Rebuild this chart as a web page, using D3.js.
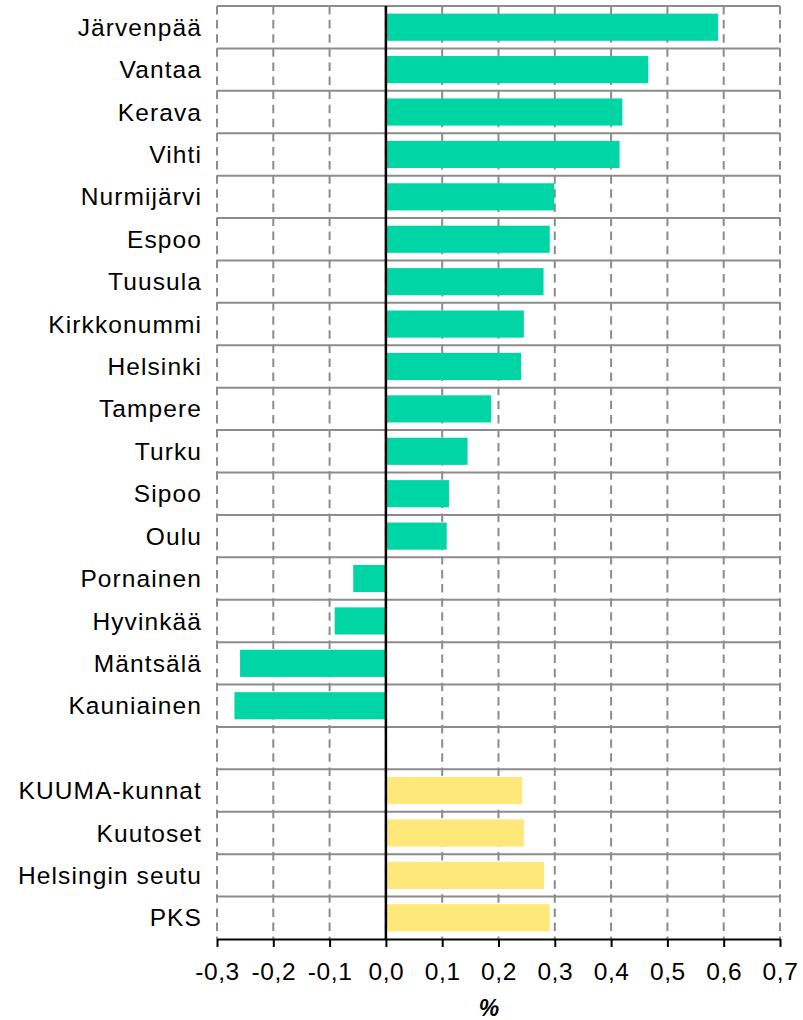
<!DOCTYPE html>
<html>
<head>
<meta charset="utf-8">
<script src="https://cdn.jsdelivr.net/npm/d3@7"></script>
<style>
  body { margin: 0; background: #fff; }
  text { font-family: "Liberation Sans", Arial, sans-serif; fill: #000; }
</style>
</head>
<body>
<script>
var width = 803;
var height = 1020;

// categories top to bottom, blank row separates the area totals
var categories = ['Järvenpää', 'Vantaa', 'Kerava', 'Vihti', 'Nurmijärvi', 'Espoo', 'Tuusula',
  'Kirkkonummi', 'Helsinki', 'Tampere', 'Turku', 'Sipoo', 'Oulu', 'Pornainen', 'Hyvinkää',
  'Mäntsälä', 'Kauniainen', ' ', 'KUUMA-kunnat', 'Kuutoset', 'Helsingin seutu', 'PKS'];
var values = [0.590, 0.466, 0.420, 0.415, 0.299, 0.291, 0.280, 0.245, 0.240, 0.187, 0.145,
  0.112, 0.108, -0.058, -0.091, -0.259, -0.269, null, 0.242, 0.245, 0.281, 0.291];
var groups = ['kunta', 'kunta', 'kunta', 'kunta', 'kunta', 'kunta', 'kunta', 'kunta', 'kunta',
  'kunta', 'kunta', 'kunta', 'kunta', 'kunta', 'kunta', 'kunta', 'kunta', '', 'alue', 'alue', 'alue', 'alue'];
var xTicks = [-0.3, -0.2, -0.1, 0.0, 0.1, 0.2, 0.3, 0.4, 0.5, 0.6, 0.7];

var colors = { kunta: '#00d5a6', alue: '#ffe87a' };

var plotLeft = 217, plotRight = 780, plotTop = 6, plotBottom = 939;

var svg = d3.select('body').append('svg')
  .attr('width', width)
  .attr('height', height);

var x = d3.scaleLinear().domain([-0.3, 0.7]).range([plotLeft, plotRight]);
var y = d3.scaleBand().domain(categories).range([plotTop, plotBottom]).paddingInner(0.36).paddingOuter(0.18);
var rowStep = (plotBottom - plotTop) / categories.length;

var data = categories.map(function(c, i) {
  return { name: c, value: values[i], group: groups[i] };
});

// vertical dashed grid
svg.append('g').selectAll('line').data(xTicks).enter().append('line')
  .attr('x1', function(d) { return x(d); })
  .attr('x2', function(d) { return x(d); })
  .attr('y1', plotTop)
  .attr('y2', plotBottom)
  .attr('stroke', '#8c8c8c')
  .attr('stroke-width', 2)
  .attr('stroke-dasharray', '8.5,5.6');

// horizontal solid grid (row boundaries)
var rows = d3.range(categories.length);
svg.append('g').selectAll('line').data(rows).enter().append('line')
  .attr('x1', plotLeft)
  .attr('x2', plotRight)
  .attr('y1', function(d) { return plotTop + d * rowStep; })
  .attr('y2', function(d) { return plotTop + d * rowStep; })
  .attr('stroke', '#8c8c8c')
  .attr('stroke-width', 2);

// bars
svg.append('g').selectAll('rect').data(data.filter(function(d) { return d.value !== null; }))
  .enter().append('rect')
  .attr('x', function(d) { return x(Math.min(0, d.value)); })
  .attr('y', function(d) { return y(d.name); })
  .attr('width', function(d) { return Math.abs(x(d.value) - x(0)); })
  .attr('height', y.bandwidth())
  .attr('fill', function(d) { return colors[d.group]; });

// zero line
svg.append('line')
  .attr('x1', x(0)).attr('x2', x(0))
  .attr('y1', plotTop).attr('y2', plotBottom)
  .attr('stroke', '#000')
  .attr('stroke-width', 2.5);

// category labels
svg.append('g').selectAll('text').data(data).enter().append('text')
  .attr('x', 202)
  .attr('y', function(d) { return y(d.name) + y.bandwidth() / 2; })
  .attr('dy', '0.35em')
  .attr('text-anchor', 'end')
  .style('font-size', '24.5px')
  .style('letter-spacing', '1.1px')
  .text(function(d) { return d.name; });

// x axis
var xAxis = d3.axisBottom(x)
  .tickValues(xTicks)
  .tickSize(8)
  .tickSizeOuter(0)
  .tickFormat(function(d) { return d3.format('.1f')(d).replace('.', ',').replace('−', '-'); });

var gx = svg.append('g')
  .attr('transform', 'translate(0,' + plotBottom + ')')
  .call(xAxis);
gx.select('.domain').attr('stroke', '#000').attr('stroke-width', 2);
gx.selectAll('.tick line').attr('stroke', '#000').attr('stroke-width', 2);
gx.selectAll('.tick text')
  .attr('y', 0)
  .attr('dy', '41px')
  .style('font-size', '24.5px')
  .style('letter-spacing', '0.6px')
  .style('font-family', '"Liberation Sans", Arial, sans-serif')
  .attr('fill', '#000');

svg.append('text')
  .attr('x', 489)
  .attr('y', 1016)
  .attr('text-anchor', 'middle')
  .style('font-size', '23px')
  .style('font-weight', 'bold')
  .style('font-style', 'italic')
  .text('%');
</script>
</body>
</html>
